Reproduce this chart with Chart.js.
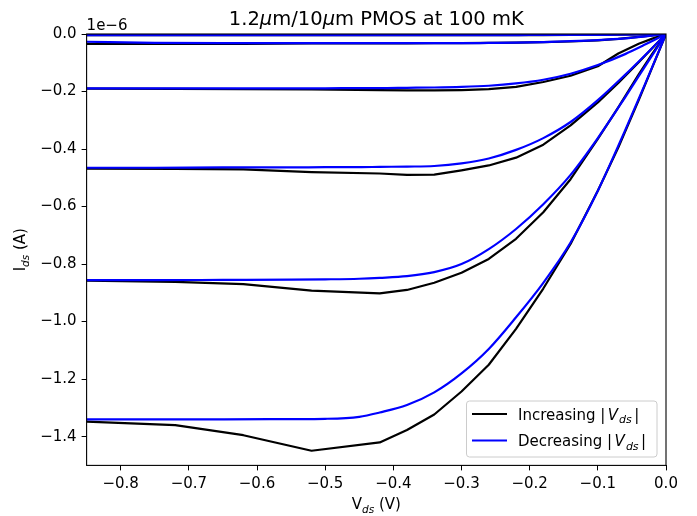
<!DOCTYPE html>
<html>
<head>
<meta charset="utf-8">
<script src="https://cdn.jsdelivr.net/npm/chart.js@4.4.0/dist/chart.umd.min.js"></script>
<style>
  html, body { margin: 0; padding: 0; background: #fff; }
  #wrap { width: 697px; height: 516px; }
</style>
</head>
<body>
<div id="wrap"><canvas id="chart" width="697" height="516"></canvas></div>
<script>
// tick labels
const xTicks = [-0.8, -0.7, -0.6, -0.5, -0.4, -0.3, -0.2, -0.1, 0.0];
const yTicks = [0.0, -0.2, -0.4, -0.6, -0.8, -1.0, -1.2, -1.4];

// Vds sweep points (V)
const vdsUp   = [-0.85, -0.72, -0.62, -0.52, -0.42, -0.38, -0.34, -0.30, -0.26, -0.22, -0.18, -0.14, -0.10, -0.07, -0.04, -0.02, 0];
const vdsDown = [-0.85, -0.75, -0.65, -0.55, -0.50, -0.45, -0.42, -0.38, -0.34, -0.30, -0.26, -0.22, -0.18, -0.14, -0.10, -0.06, -0.03, 0];

// Ids (x1e-6 A), increasing |Vds|, one array per gate voltage
const idsUp0 = [-0.004, -0.004, -0.004, -0.004, -0.004, -0.004, -0.004, -0.004, -0.004, -0.004, -0.004, -0.003, -0.003, -0.002, -0.001, -0.0005, 0];
const idsUp1 = [-0.034, -0.034, -0.034, -0.033, -0.033, -0.033, -0.032, -0.032, -0.031, -0.030, -0.028, -0.026, -0.022, -0.017, -0.010, -0.005, 0];
const idsUp2 = [-0.190, -0.191, -0.192, -0.193, -0.195, -0.196, -0.196, -0.195, -0.192, -0.184, -0.167, -0.145, -0.112, -0.068, -0.034, -0.016, 0];
const idsUp3 = [-0.468, -0.469, -0.471, -0.480, -0.485, -0.490, -0.489, -0.474, -0.457, -0.430, -0.385, -0.318, -0.238, -0.170, -0.098, -0.049, 0];
const idsUp4 = [-0.858, -0.862, -0.870, -0.892, -0.902, -0.890, -0.865, -0.830, -0.782, -0.712, -0.620, -0.505, -0.365, -0.255, -0.140, -0.068, 0];
const idsUp5 = [-1.348, -1.360, -1.395, -1.449, -1.420, -1.377, -1.323, -1.243, -1.150, -1.025, -0.885, -0.730, -0.545, -0.395, -0.230, -0.115, 0];

// Ids (x1e-6 A), decreasing |Vds|
const idsDown0 = [-0.004, -0.004, -0.004, -0.004, -0.004, -0.004, -0.004, -0.004, -0.004, -0.004, -0.004, -0.004, -0.003, -0.003, -0.003, -0.002, -0.001, 0];
const idsDown1 = [-0.027, -0.031, -0.032, -0.032, -0.032, -0.032, -0.032, -0.032, -0.032, -0.032, -0.031, -0.030, -0.028, -0.025, -0.021, -0.015, -0.008, 0];
const idsDown2 = [-0.189, -0.189, -0.189, -0.189, -0.189, -0.188, -0.188, -0.187, -0.186, -0.184, -0.180, -0.172, -0.159, -0.138, -0.108, -0.070, -0.036, 0];
const idsDown3 = [-0.465, -0.465, -0.464, -0.464, -0.463, -0.463, -0.462, -0.461, -0.459, -0.450, -0.433, -0.403, -0.362, -0.306, -0.230, -0.142, -0.072, 0];
const idsDown4 = [-0.856, -0.856, -0.855, -0.854, -0.853, -0.851, -0.848, -0.842, -0.828, -0.800, -0.748, -0.678, -0.592, -0.490, -0.362, -0.220, -0.110, 0];
const idsDown5 = [-1.340, -1.340, -1.340, -1.339, -1.338, -1.331, -1.316, -1.290, -1.246, -1.180, -1.095, -0.985, -0.865, -0.725, -0.545, -0.335, -0.170, 0];

const upSeries = [idsUp0, idsUp1, idsUp2, idsUp3, idsUp4, idsUp5];
const downSeries = [idsDown0, idsDown1, idsDown2, idsDown3, idsDown4, idsDown5];

const FONT = '"DejaVu Sans"';
const norm = s => s + 'px ' + FONT;
const ital = s => 'italic ' + s + 'px ' + FONT;
const fmt = v => (Math.abs(v) < 1e-9 ? 0 : v).toFixed(1).replace('-', '\u2212');

// build datasets
const datasets = [];
upSeries.forEach(ys => {
	datasets.push({
		label: 'Increasing',
		data: vdsUp.map((v, i) => ({ x: v, y: ys[i] })),
		borderColor: '#000000',
		borderWidth: 2.2,
		order: 1
	});
});
downSeries.forEach(ys => {
	datasets.push({
		label: 'Decreasing',
		data: vdsDown.map((v, i) => ({ x: v, y: ys[i] })),
		borderColor: '#0000ff',
		borderWidth: 2.2,
		cubicInterpolationMode: 'monotone',
		order: 0
	});
});

//draw several text pieces in a row (for subscripts / italics)
function drawRich(ctx, parts, x, y, align) {
	let w = 0;
	parts.forEach(p => { ctx.font = p.font; w += ctx.measureText(p.t).width + (p.gap || 0); });
	let cx = align === 'center' ? x - w / 2 : x;
	ctx.textAlign = 'left';
	ctx.textBaseline = 'alphabetic';
	parts.forEach(p => {
		ctx.font = p.font;
		ctx.fillText(p.t, cx, y + (p.dy || 0));
		cx += ctx.measureText(p.t).width + (p.gap || 0);
	});
}

const decorations = {
	id: 'decorations',
	afterDraw(chart) {
		const ctx = chart.ctx;
		const a = chart.chartArea;
		const midX = (a.left + a.right) / 2;
		const midY = (a.top + a.bottom) / 2;
		ctx.save();
		ctx.fillStyle = '#000';

		// frame
		ctx.strokeStyle = '#000';
		ctx.lineWidth = 1.1;
		ctx.strokeRect(a.left, a.top, a.right - a.left, a.bottom - a.top);

		// title
		drawRich(ctx, [
			{ t: '1.2', font: norm(19.5) },
			{ t: '\u03bc', font: ital(19.5) },
			{ t: 'm/10', font: norm(19.5) },
			{ t: '\u03bc', font: ital(19.5) },
			{ t: 'm PMOS at 100 mK', font: norm(19.5) }
		], midX, 25, 'center');

		// offset text
		drawRich(ctx, [{ t: '1e\u22126', font: norm(15) }], a.left, 30, 'left');

		// x label
		drawRich(ctx, [
			{ t: 'V', font: norm(15) },
			{ t: 'ds', font: ital(10.5), dy: 3.5 },
			{ t: ' (V)', font: norm(15) }
		], midX, 509, 'center');

		// y label
		ctx.save();
		ctx.translate(25, midY);
		ctx.rotate(-Math.PI / 2);
		drawRich(ctx, [
			{ t: 'I', font: norm(15) },
			{ t: 'ds', font: ital(10.5), dy: 3.5 },
			{ t: ' (A)', font: norm(15) }
		], 0, 0, 'center');
		ctx.restore();

		// legend
		const bx = 466.5, by = 401, bw = 190.5, bh = 56;
		ctx.beginPath();
		ctx.roundRect(bx, by, bw, bh, 3);
		ctx.fillStyle = 'rgba(255,255,255,0.8)';
		ctx.fill();
		ctx.strokeStyle = '#cccccc';
		ctx.lineWidth = 1;
		ctx.stroke();
		const rows = [
			{ name: 'Increasing ', color: '#000000', y: 414 },
			{ name: 'Decreasing ', color: '#0000ff', y: 440.5 }
		];
		rows.forEach(r => {
			ctx.beginPath();
			ctx.moveTo(472, r.y);
			ctx.lineTo(507, r.y);
			ctx.strokeStyle = r.color;
			ctx.lineWidth = 2.2;
			ctx.stroke();
			ctx.fillStyle = '#000';
			drawRich(ctx, [
				{ t: r.name, font: norm(15) },
				{ t: '|', font: norm(15), gap: 2.5 },
				{ t: 'V', font: ital(15), gap: 1 },
				{ t: 'ds', font: ital(11), dy: 3.5, gap: 2.5 },
				{ t: '|', font: norm(15) }
			], 518, r.y + 5.5, 'left');
		});
		ctx.restore();
	}
};

const tickFont = { family: 'DejaVu Sans', size: 15 };

new Chart(document.getElementById('chart'), {
	type: 'scatter',
	data: { datasets: datasets },
	options: {
		responsive: false,
		devicePixelRatio: 1,
		animation: false,
		showLine: true,
		layout: { padding: { top: 34, right: 31, left: 0, bottom: 0 } },
		elements: {
			point: { radius: 0, hoverRadius: 0 },
			line: { tension: 0, fill: false, borderCapStyle: 'butt', borderJoinStyle: 'round' }
		},
		datasets: { scatter: { clip: 0 } },
		plugins: {
			legend: { display: false },
			title: { display: false },
			tooltip: { enabled: false }
		},
		scales: {
			x: {
				type: 'linear',
				min: -0.85,
				max: 0,
				afterBuildTicks: s => { s.ticks = xTicks.map(v => ({ value: v })); },
				afterFit: s => { s.height = 50.6; },
				ticks: { font: tickFont, color: '#000', padding: 5, maxRotation: 0, callback: v => fmt(v) },
				grid: { drawOnChartArea: false, drawTicks: true, tickLength: 5, tickColor: '#000', tickWidth: 1 },
				border: { display: false }
			},
			y: {
				type: 'linear',
				min: -1.5,
				max: 0,
				afterBuildTicks: s => { s.ticks = yTicks.map(v => ({ value: v })); },
				afterFit: s => { s.width = 86.6; },
				ticks: { font: tickFont, color: '#000', padding: 5, callback: v => fmt(v) },
				grid: { drawOnChartArea: false, drawTicks: true, tickLength: 5, tickColor: '#000', tickWidth: 1 },
				border: { display: false }
			}
		}
	},
	plugins: [decorations]
});
</script>
</body>
</html>
